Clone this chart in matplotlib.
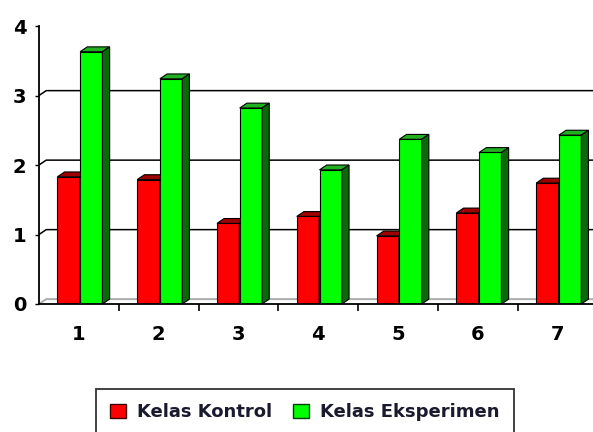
import matplotlib.pyplot as plt
from matplotlib.patches import Patch

# data
categories = ['1', '2', '3', '4', '5', '6', '7']
kontrol = [1.83, 1.79, 1.16, 1.26, 0.98, 1.31, 1.74]
eksperimen = [3.63, 3.24, 2.82, 1.93, 2.37, 2.18, 2.43]
series_names = ['Kelas Kontrol', 'Kelas Eksperimen']

# warna: depan, atas, samping
red = ('#ff0000', '#a00000', '#800000')
green = ('#00ff00', '#22b022', '#0a6a0a')

dx, dy = 0.09, 0.07
w = 0.28

fig = plt.figure(figsize=(5.93, 4.32), dpi=100)
ax = fig.add_axes([0.0658, 0.2963, 0.942, 0.6435])
ax.set_xlim(0.5, 7.5)
ax.set_ylim(0, 4)

# dinding belakang: garis grid
for v in [1, 2, 3]:
    ax.plot([0.5, 0.5 + dx, 7.6], [v, v + dy, v + dy], color='black', lw=1.1, zorder=1)
# lantai
ax.plot([0.5, 0.5 + dx, 7.6], [0, dy, dy], color='#b0b0b0', lw=1.5, zorder=1)


def bar3d(x0, h, cols, z):
    x1 = x0 + w
    ax.fill([x0, x1, x1, x0], [0, 0, h, h], facecolor=cols[0], edgecolor='black', lw=0.8, zorder=z)
    ax.fill([x0, x1, x1 + dx, x0 + dx], [h, h, h + dy, h + dy], facecolor=cols[1],
            edgecolor='black', lw=0.8, zorder=z)
    ax.fill([x1, x1 + dx, x1 + dx, x1], [0, dy, h + dy, h], facecolor=cols[2],
            edgecolor='black', lw=0.8, zorder=z)


for i in range(len(categories)):
    c = i + 1
    bar3d(c - 0.27, kontrol[i], red, 3 + 2 * i)
    bar3d(c + 0.015, eksperimen[i], green, 4 + 2 * i)

for s in ['top', 'right']:
    ax.spines[s].set_visible(False)
ax.spines['left'].set_linewidth(1.3)
ax.spines['bottom'].set_linewidth(1.3)
ax.spines['left'].set_zorder(20)
ax.spines['bottom'].set_zorder(20)

ax.set_yticks([0, 1, 2, 3, 4])
ax.set_yticklabels(['0', '1', '2', '3', '4'], fontsize=14, fontweight='bold')
ax.tick_params(axis='y', length=3, width=1, pad=6)

ax.set_xticks([1.5, 2.5, 3.5, 4.5, 5.5, 6.5, 7.5])
ax.set_xticklabels([])
ax.tick_params(axis='x', length=5, width=1.2, direction='out')
for i, lab in enumerate(categories):
    ax.text(i + 1, -0.3, lab, ha='center', va='top', fontsize=14, fontweight='bold')

handles = [Patch(facecolor=red[0], edgecolor='#400000'), Patch(facecolor=green[0], edgecolor='#004000')]
leg = fig.legend(handles, series_names, loc='upper center', bbox_to_anchor=(0.514, 0.1),
                 ncol=2, frameon=True, fancybox=False, edgecolor='black',
                 prop={'size': 13, 'weight': 'bold'}, handlelength=0.85, handleheight=0.85,
                 handletextpad=0.6, columnspacing=1.2, borderpad=0.8, borderaxespad=0)
leg.get_frame().set_linewidth(1.3)
for t in leg.get_texts():
    t.set_color('#1a1a2e')

fig.savefig('out.png', dpi=100)
